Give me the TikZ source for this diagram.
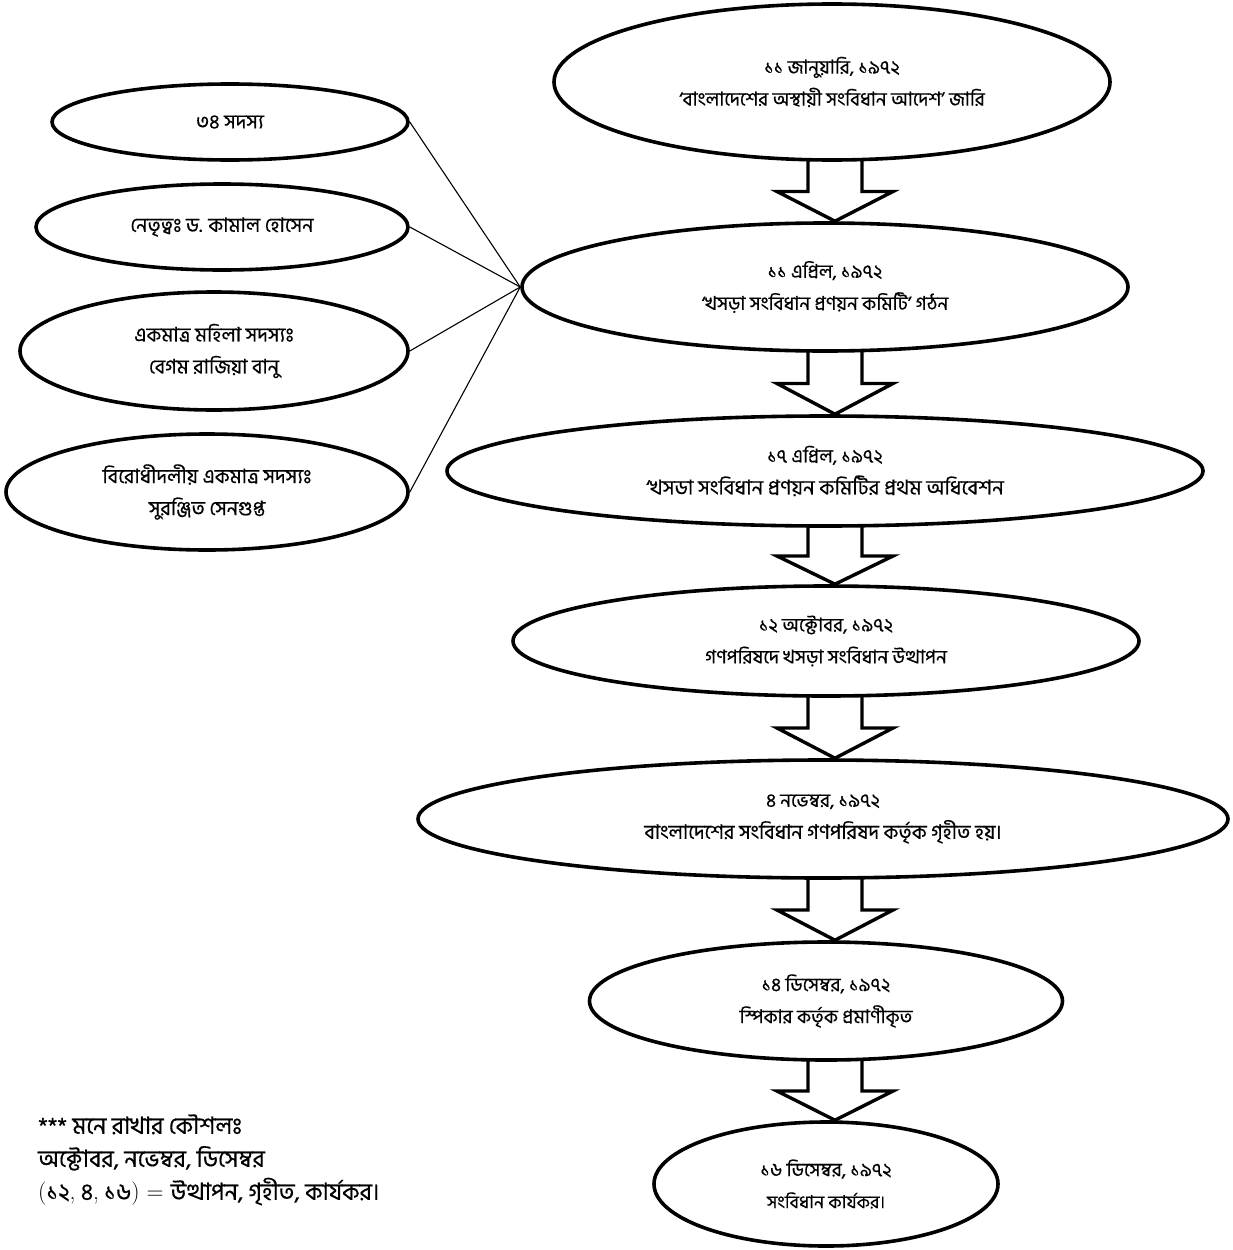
\documentclass[tikz,border=0pt]{standalone}
\usepackage{fontspec}
\newfontfamily\bn[Script=Bengali,FakeBold=0.4]{Hind Siliguri}
\usetikzlibrary{shapes.geometric,calc,backgrounds}
\newcommand{\blockarr}[2]{%
  \path[blk] let \p1=(#1.south), \p2=(#2.north), \p3=($(\p1)!0.5!(\p2)$), \p0=(ax) in
   ({\x0-27pt},{\y1+6pt}) -- ({\x0-27pt},\y3) -- ({\x0-58pt},\y3) -- (\x0,\y2) --
   ({\x0+58pt},\y3) -- ({\x0+27pt},\y3) -- ({\x0+27pt},{\y1+6pt}) -- cycle;}
\begin{document}
\begin{tikzpicture}[x=1pt,y=-1pt,
  ev/.style={ellipse, draw=black, line width=3.6pt, fill=white, inner sep=0pt,
    align=center, font=\bn\fontsize{19}{32}\selectfont},
  lv/.style={ev, font=\bn\fontsize{20}{32}\selectfont},
  link/.style={draw=black, line width=1.1pt},
  blk/.style={draw=black, line width=3.4pt, fill=white, line join=miter},
  note/.style={anchor=west, align=left, inner sep=0pt, font=\bn\fontsize{23.5}{33}\selectfont}]
\useasboundingbox (0,0) rectangle (1232,1250);
\coordinate (ax) at (835,0);
% right chain
\node[ev, minimum width=556, minimum height=156] (r1) at (832,82)
  {১১ জানুয়ারি, ১৯৭২\\‘বাংলাদেশের অস্থায়ী সংবিধান আদেশ’ জারি};
\node[ev, minimum width=606, minimum height=128] (r2) at (825,287)
  {১১ এপ্রিল, ১৯৭২\\‘খসড়া সংবিধান প্রণয়ন কমিটি’ গঠন};
\node[ev, minimum width=756, minimum height=110] (r3) at (825,471)
  {১৭ এপ্রিল, ১৯৭২\\\fontsize{20.5}{32}\selectfont ‘খসডা সংবিধান প্রণয়ন কমিটির প্রথম অধিবেশন};
\node[ev, minimum width=626, minimum height=110] (r4) at (826,641)
  {১২ অক্টোবর, ১৯৭২\\গণপরিষদে খসড়া সংবিধান উত্থাপন};
\node[ev, minimum width=810, minimum height=118] (r5) at (823,819)
  {৪ নভেম্বর, ১৯৭২\\\fontsize{20}{32}\selectfont বাংলাদেশের সংবিধান গণপরিষদ কর্তৃক গৃহীত হয়।};
\node[ev, minimum width=473, minimum height=118] (r6) at (826,1001)
  {১৪ ডিসেম্বর, ১৯৭২\\স্পিকার কর্তৃক প্রমাণীকৃত};
\node[ev, minimum width=344, minimum height=124] (r7) at (826,1184)
  {১৬ ডিসেম্বর, ১৯৭২\\\fontsize{18}{32}\selectfont সংবিধান কার্যকর।};
% left ellipses
\node[lv, minimum width=356, minimum height=76] (l1) at (230,122) {৩৪ সদস্য};
\node[lv, minimum width=372, minimum height=86] (l2) at (222,227) {নেতৃত্বঃ ড. কামাল হোসেন};
\node[lv, minimum width=388, minimum height=118] (l3) at (214,351)
  {একমাত্র মহিলা সদস্যঃ\\বেগম রাজিয়া বানু};
\node[lv, minimum width=402, minimum height=116] (l4) at (207,492)
  {বিরোধীদলীয় একমাত্র সদস্যঃ\\সুরঞ্জিত সেনগুপ্ত};
\foreach \l in {l1,l2,l3,l4} \draw[link] (\l.east) -- (r2.west);
% note
\node[note] (memo) at (38,1160)
  {*** মনে রাখার কৌশলঃ\\অক্টোবর, নভেম্বর, ডিসেম্বর\\{\rmfamily(}১২{\rmfamily,} ৪{\rmfamily,} ১৬{\rmfamily) = }উত্থাপন, গৃহীত, কার্যকর।};
% block arrows
\begin{pgfonlayer}{background}
\fill[white] (0,0) rectangle (1232,1250);
\blockarr{r1}{r2}
\blockarr{r2}{r3}
\blockarr{r3}{r4}
\blockarr{r4}{r5}
\blockarr{r5}{r6}
\blockarr{r6}{r7}
\end{pgfonlayer}
\end{tikzpicture}
\end{document}
